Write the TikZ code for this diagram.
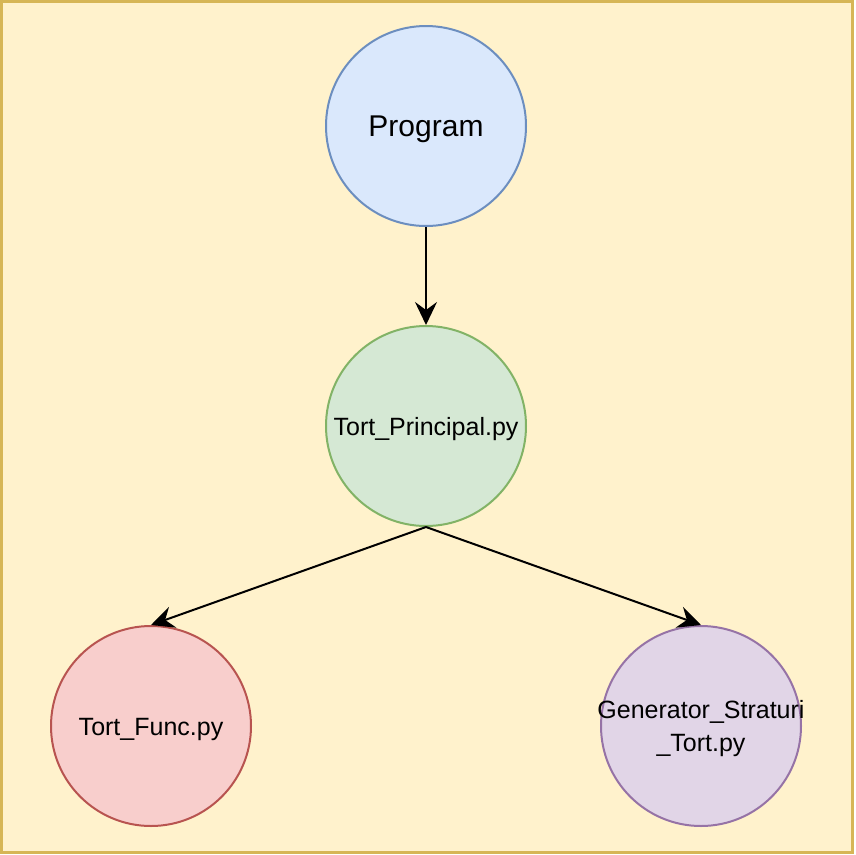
\documentclass[tikz,border=0pt]{standalone}
\usepackage{fontspec}
\setmainfont{Liberation Sans}
\usetikzlibrary{arrows.meta}
\definecolor{bgfill}{HTML}{FFF2CC}
\definecolor{bgline}{HTML}{D6B656}
\definecolor{bluef}{HTML}{DAE8FC}
\definecolor{bluel}{HTML}{6C8EBF}
\definecolor{greenf}{HTML}{D5E8D4}
\definecolor{greenl}{HTML}{82B366}
\definecolor{redf}{HTML}{F8CECC}
\definecolor{redl}{HTML}{B85450}
\definecolor{purf}{HTML}{E1D5E7}
\definecolor{purl}{HTML}{9673A6}
\tikzset{
  modnode/.style={circle, minimum size=200pt, inner sep=0pt, line width=2pt},
  modtext/.style={align=center, inner sep=0pt, yshift=-3pt, font=\fontsize{25}{33}\selectfont},
  conn/.style={line width=2pt, -{Stealth[length=23pt,width=22pt,inset=8pt]}}
}
\begin{document}
\begin{tikzpicture}[x=1pt,y=-1pt]
\useasboundingbox (0,0) rectangle (855,855);
\draw[fill=bgfill, draw=bgline, line width=2.5pt] (1.3,1.3) rectangle (852.5,852.5);
\node[modnode, fill=bluef, draw=bluel,
  label={[modtext, font=\fontsize{30}{36}\selectfont]center:Program}] (prog) at (426,126) {};
\node[modnode, fill=greenf, draw=greenl,
  label={[modtext]center:Tort\_Principal.py}] (tp) at (426,426) {};
\node[modnode, fill=redf, draw=redl,
  label={[modtext]center:Tort\_Func.py}] (tf) at (151,726) {};
\node[modnode, fill=purf, draw=purl,
  label={[modtext]center:Generator\_Straturi\\\_Tort.py}] (gen) at (701,726) {};
\draw[conn] (prog.south) -- (tp.north);
\draw[conn] (tp.south) -- (tf.north);
\draw[conn] (tp.south) -- (gen.north);
\end{tikzpicture}
\end{document}
